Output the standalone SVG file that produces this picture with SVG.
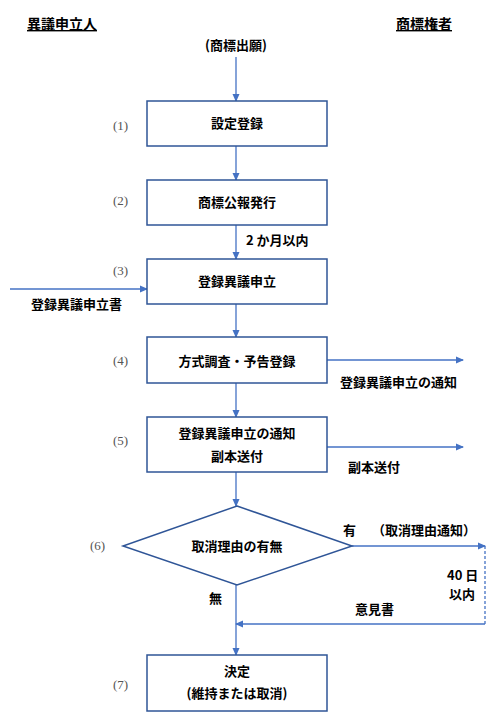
<svg xmlns="http://www.w3.org/2000/svg" width="498" height="727" viewBox="0 0 498 727">
<defs>
<marker id="ah" markerWidth="8" markerHeight="8" refX="7" refY="4" orient="auto" markerUnits="userSpaceOnUse">
<path d="M0,0.5 L8,4 L0,7.5 Z" fill="#4472C4"/>
</marker>
<style>
.box{fill:#fff;stroke:#2F5597;stroke-width:1.5}
.ln{fill:none;stroke:#4472C4;stroke-width:1.3}
.t{font-family:"Noto Sans CJK JP","Liberation Sans",sans-serif;font-size:13px;font-weight:bold;fill:#000}
.c{text-anchor:middle}
.n{font-family:"Liberation Serif","Noto Sans CJK JP",serif;font-size:13px;fill:#555}
.h{font-family:"Noto Sans CJK JP","Liberation Sans",sans-serif;font-size:14px;font-weight:bold;fill:#000;text-decoration:underline}
</style>
</defs>
<rect width="498" height="727" fill="#fff"/>
<text class="h" x="27" y="29">異議申立人</text>
<text class="h" x="396" y="29">商標権者</text>
<text class="t c" x="236" y="50">(商標出願)</text>
<g id="connectors">
<line class="ln" x1="236" y1="57" x2="236" y2="101" marker-end="url(#ah)"/>
<line class="ln" x1="236" y1="146" x2="236" y2="180" marker-end="url(#ah)"/>
<line class="ln" x1="236" y1="225" x2="236" y2="259" marker-end="url(#ah)"/>
<line class="ln" x1="10" y1="289" x2="147" y2="289" marker-end="url(#ah)"/>
<line class="ln" x1="236" y1="304" x2="236" y2="337" marker-end="url(#ah)"/>
<line class="ln" x1="327" y1="360" x2="463" y2="360" marker-end="url(#ah)"/>
<line class="ln" x1="236" y1="383" x2="236" y2="417" marker-end="url(#ah)"/>
<line class="ln" x1="327" y1="447" x2="463" y2="447" marker-end="url(#ah)"/>
<line class="ln" x1="236" y1="472" x2="236" y2="506" marker-end="url(#ah)"/>
<line class="ln" x1="352" y1="546" x2="485" y2="546" marker-end="url(#ah)"/>
<line class="ln" x1="485" y1="546" x2="485" y2="624" stroke-dasharray="3,2"/>
<line class="ln" x1="485" y1="624" x2="236" y2="624" marker-end="url(#ah)"/>
<line class="ln" x1="236" y1="585" x2="236" y2="655" marker-end="url(#ah)"/>
</g>
<g id="n1"><rect class="box" x="147" y="101" width="180" height="45"/><text class="t c" x="237" y="128">設定登録</text><text class="n" x="113" y="130">(1)</text></g>
<g id="n2"><rect class="box" x="147" y="180" width="180" height="45"/><text class="t c" x="237" y="207">商標公報発行</text><text class="n" x="113" y="205">(2)</text></g>
<text class="t" x="246" y="245">2 か月以内</text>
<g id="n3"><rect class="box" x="147" y="259" width="180" height="45"/><text class="t c" x="237" y="286">登録異議申立</text><text class="n" x="113" y="275">(3)</text></g>
<text class="t" x="31" y="309">登録異議申立書</text>
<g id="n4"><rect class="box" x="147" y="337" width="180" height="46"/><text class="t c" x="237" y="366">方式調査・予告登録</text><text class="n" x="113" y="365">(4)</text></g>
<text class="t" x="340" y="387">登録異議申立の通知</text>
<g id="n5"><rect class="box" x="147" y="417" width="180" height="55"/><text class="t c" x="237" y="438">登録異議申立の通知</text><text class="t c" x="237" y="461">副本送付</text><text class="n" x="113" y="445">(5)</text></g>
<text class="t" x="348" y="472">副本送付</text>
<g id="n6"><polygon class="box" points="237,506 352,546 237,585 123,546"/><text class="t c" x="237" y="551">取消理由の有無</text><text class="n" x="90" y="550">(6)</text></g>
<text class="t" x="343" y="535">有</text>
<text class="t" x="372" y="535">（取消理由通知）</text>
<text class="t" x="447" y="580">40 日</text>
<text class="t" x="449" y="599">以内</text>
<text class="t" x="355" y="614">意見書</text>
<text class="t" x="209" y="603">無</text>
<g id="n7"><rect class="box" x="147" y="655" width="180" height="56"/><text class="t c" x="237" y="676">決定</text><text class="t c" x="237" y="698">(維持または取消)</text><text class="n" x="113" y="689">(7)</text></g>
</svg>
